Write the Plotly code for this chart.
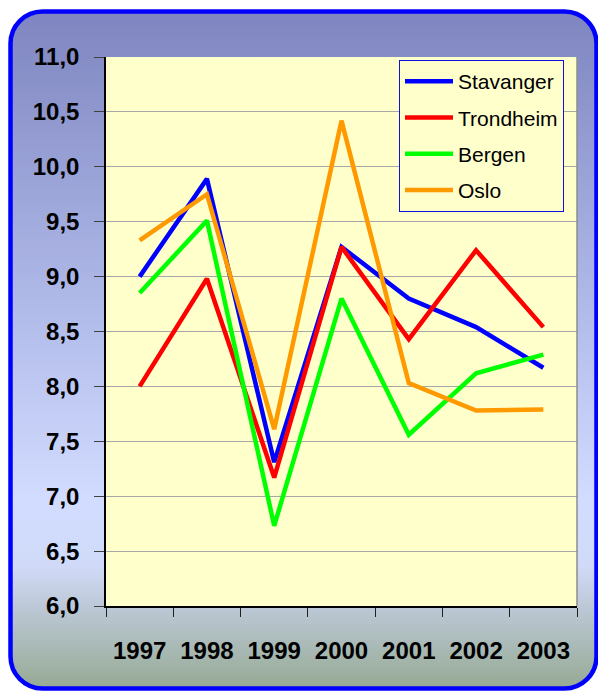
import base64
import plotly.graph_objects as go

years = ["1997", "1998", "1999", "2000", "2001", "2002", "2003"]
stavanger = [9.00, 9.89, 7.31, 9.27, 8.80, 8.54, 8.17]
trondheim = [8.00, 8.98, 7.17, 9.27, 8.43, 9.24, 8.54]
bergen = [8.85, 9.51, 6.73, 8.80, 7.56, 8.12, 8.29]
oslo = [9.33, 9.75, 7.61, 10.42, 8.03, 7.78, 7.79]

series_names = ["Stavanger", "Trondheim", "Bergen", "Oslo"]
series_values = [stavanger, trondheim, bergen, oslo]
series_colors = ["#0000FF", "#FF0000", "#00FF00", "#FF9900"]

W, H = 598, 691
ML, MR, MT, MB = 106, 21, 57, 85
PW, PH = W - ML - MR, H - MT - MB

svg = f"""<svg xmlns='http://www.w3.org/2000/svg' width='{W}' height='{H}' viewBox='0 0 {W} {H}'>
<defs><linearGradient id='g' x1='0' y1='0' x2='0' y2='1'>
<stop offset='0' stop-color='#7E85C0'/>
<stop offset='0.45' stop-color='#B2BCEA'/>
<stop offset='0.72' stop-color='#D2DCFF'/>
<stop offset='0.82' stop-color='#D0DAF8'/>
<stop offset='0.88' stop-color='#BCC8D6'/>
<stop offset='1' stop-color='#96AA94'/>
</linearGradient></defs>
<rect x='10.5' y='11.5' width='586' height='677' rx='32' ry='32' fill='url(#g)' stroke='#0000FF' stroke-width='4.5'/>
<rect x='{ML}' y='{MT}' width='{PW}' height='{PH}' fill='#FFFFCC'/>
</svg>"""
src = "data:image/svg+xml;base64," + base64.b64encode(svg.encode()).decode()

fig = go.Figure()
for name, vals, col in zip(series_names, series_values, series_colors):
    fig.add_trace(go.Scatter(x=years, y=vals, name=name, mode="lines",
                             line=dict(color=col, width=4.5), legendgroup=name))

fig.add_layout_image(dict(source=src, xref="paper", yref="paper",
                          x=-ML / PW, y=1 + MT / PH, sizex=W / PW, sizey=H / PH,
                          xanchor="left", yanchor="top", sizing="stretch", layer="below"))

fig.add_shape(type="line", xref="paper", yref="paper", x0=1, x1=1, y0=0, y1=1,
              line=dict(color="#8C8C8C", width=1.5))

fig.update_layout(
    width=W, height=H,
    margin=dict(l=ML, r=MR, t=MT, b=MB, autoexpand=False),
    paper_bgcolor="rgba(0,0,0,0)",
    plot_bgcolor="rgba(0,0,0,0)",
    separators=", ",
    font=dict(family="Liberation Sans, Arial, sans-serif", color="black"),
    showlegend=True,
    legend=dict(x=(399 - ML) / PW, y=1 - 3 / PH, xanchor="left", yanchor="top",
                bgcolor="#FFFFCC", bordercolor="#1010E0", borderwidth=1,
                font=dict(size=21, color="black"), tracegroupgap=6, itemwidth=48),
    xaxis=dict(type="category", range=[-0.5, 6.5], tickson="boundaries", ticks="outside",
               ticklen=9, tickcolor="#202020", showline=True, linecolor="black", linewidth=1.5,
               showgrid=False, ticklabelstandoff=22, automargin=False,
               tickfont=dict(size=24, weight="bold", color="black")),
    yaxis=dict(range=[6, 11], dtick=0.5, tickformat=".1f", ticks="outside", ticklen=10,
               tickcolor="#404040", showline=True, linecolor="black", linewidth=1.5,
               gridcolor="#A8A8A8", gridwidth=1, zeroline=False, ticklabelstandoff=10,
               automargin=False,
               tickfont=dict(size=24, weight="bold", color="black")),
)

fig.write_html("out.html", config={"displayModeBar": False},
               post_script="document.body.style.margin='0';")
